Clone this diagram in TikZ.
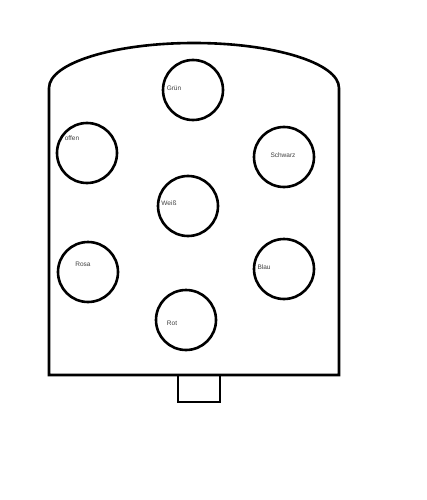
\documentclass[tikz,border=0pt]{standalone}
\usepackage{fontspec}
\setmainfont{Liberation Sans}
\begin{document}
\begin{tikzpicture}[x=1pt,y=-1pt,
  outline/.style={line width=2.6pt,line join=miter},
  hole/.style={circle,draw,line width=2.6pt,minimum size=60pt,inner sep=0pt},
  lbl/.style={font=\fontsize{6.5}{7}\selectfont,text=black!75,inner sep=0pt}]
\useasboundingbox (0,0) rectangle (426,500);
\fill[white] (0,0) rectangle (426,500);
% body
\draw[outline] (49,88) -- (49,375) -- (339,375) -- (339,88)
  arc[start angle=0,end angle=180,x radius=145,y radius=-45];
% foot
\draw[outline] (178,375) rectangle (220,402);
% holes
\node[hole] (gruen) at (193,90) {};
\node[hole] (offen) at (87,153) {};
\node[hole] (schwarz) at (284,157) {};
\node[hole] (weiss) at (188,206) {};
\node[hole] (rosa) at (88,272) {};
\node[hole] (blau) at (284,269) {};
\node[hole] (rot) at (186,320) {};
% labels
\node[lbl] (lgruen) at (174,88) {Grün};
\node[lbl] (loffen) at (72,138) {offen};
\node[lbl] (lschwarz) at (283,155) {Schwarz};
\node[lbl] (lweiss) at (169,203) {Weiß};
\node[lbl] (lrosa) at (83,264) {Rosa};
\node[lbl] (lblau) at (264,267) {Blau};
\node[lbl] (lrot) at (172,323) {Rot};
\end{tikzpicture}
\end{document}
